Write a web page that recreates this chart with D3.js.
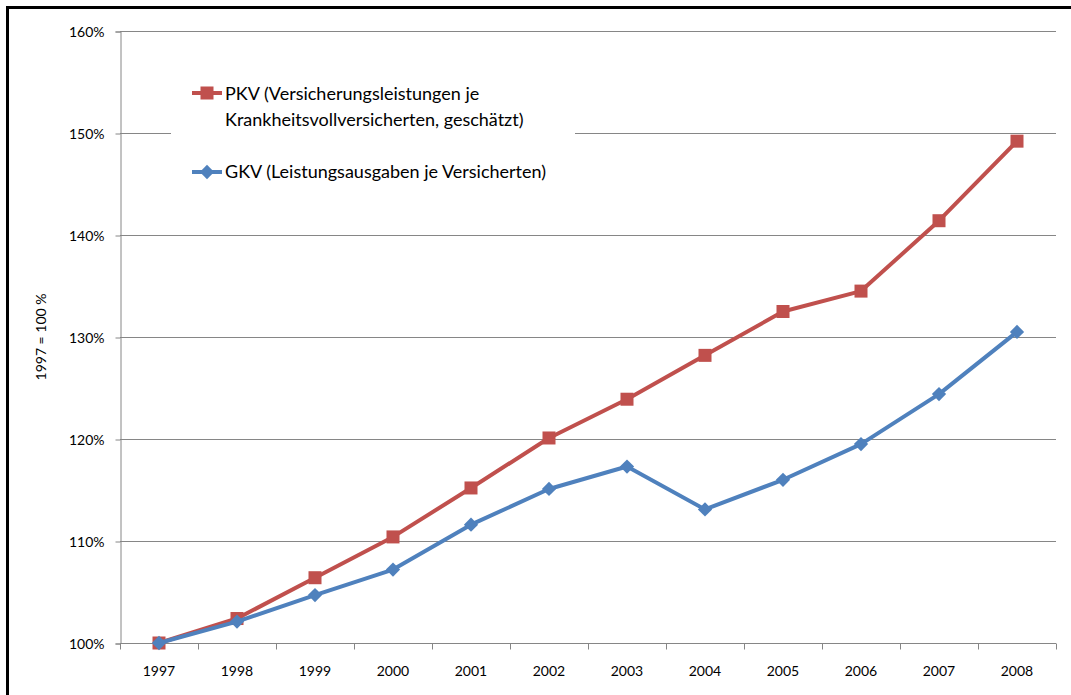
<!DOCTYPE html>
<html>
<head>
<meta charset="utf-8">
<script src="https://cdn.jsdelivr.net/npm/d3@7"></script>
<style>
  body { margin: 0; background: #fff; }
  svg text { font-family: Lato, "Liberation Sans", sans-serif; fill: #000; }
</style>
</head>
<body>
<svg id="chart" width="1071" height="695"></svg>
<script>
const years = ["1997","1998","1999","2000","2001","2002","2003","2004","2005","2006","2007","2008"];
const pkv = [100, 102.4, 106.4, 110.4, 115.2, 120.1, 123.9, 128.2, 132.5, 134.5, 141.4, 149.2];
const gkv = [100, 102.1, 104.7, 107.2, 111.6, 115.1, 117.3, 113.1, 116.0, 119.5, 124.4, 130.5];
const yTicks = [100, 110, 120, 130, 140, 150, 160];
const pkvLabel = ["PKV (Versicherungsleistungen je", "Krankheitsvollversicherten, geschätzt)"];
const gkvLabel = "GKV (Leistungsausgaben je Versicherten)";

const margin = {left: 120, top: 31, right: 1056, bottom: 643};
const svg = d3.select('#chart');

// outer frame (only left and top edges are visible in the picture)
svg.append('path')
    .attr('d', 'M7.5,700 V7.5 H1080')
    .attr('fill', 'none')
    .attr('stroke', '#000')
    .attr('stroke-width', 3);

const x = d3.scaleBand().domain(years).range([margin.left, margin.right]);
const y = d3.scaleLinear().domain([100, 160]).range([margin.bottom, margin.top]);

// gridlines
svg.append('g')
    .selectAll('line')
    .data(yTicks.slice(1))
    .join('line')
    .attr('x1', margin.left).attr('x2', margin.right)
    .attr('y1', d => Math.round(y(d)) + 0.5).attr('y2', d => Math.round(y(d)) + 0.5)
    .attr('stroke', '#868686').attr('stroke-width', 1);

// y axis
const yAxis = svg.append('g')
    .attr('transform', `translate(${margin.left + 0.5},0.5)`)
    .call(d3.axisLeft(y).tickValues(yTicks).tickSize(5).tickPadding(11).tickFormat(d => d + '%'));
yAxis.select('.domain').attr('stroke', '#868686');
yAxis.selectAll('.tick line').attr('stroke', '#868686');
yAxis.selectAll('text').style('font-size', '14px').attr('dy', '0.35em');

// x axis with ticks on category boundaries
const xAxisG = svg.append('g').attr('transform', `translate(0,${margin.bottom + 0.5})`);
xAxisG.append('line')
    .attr('x1', margin.left).attr('x2', margin.right)
    .attr('stroke', '#868686');
xAxisG.selectAll('.bound')
    .data(years.concat(['end']))
    .join('line')
    .attr('class', 'bound')
    .attr('x1', (d, i) => Math.round(margin.left + i * x.step()) + 0.5)
    .attr('x2', (d, i) => Math.round(margin.left + i * x.step()) + 0.5)
    .attr('y1', 0).attr('y2', 6)
    .attr('stroke', '#868686');
xAxisG.selectAll('text')
    .data(years)
    .join('text')
    .attr('x', d => x(d) + x.bandwidth() / 2)
    .attr('y', 32)
    .attr('text-anchor', 'middle')
    .style('font-size', '14px')
    .text(d => d);

// y axis title
svg.append('text')
    .attr('transform', `translate(46,${(margin.top + margin.bottom) / 2}) rotate(-90)`)
    .attr('text-anchor', 'middle')
    .style('font-size', '14px')
    .text('1997 = 100 %');

const cx = d => x(d) + x.bandwidth() / 2;
const line = d3.line().x((d, i) => cx(years[i])).y(d => y(d));

const red = '#C0504D', blue = '#4F81BD';

// PKV series
svg.append('path').datum(pkv)
    .attr('d', line).attr('fill', 'none')
    .attr('stroke', red).attr('stroke-width', 4).attr('stroke-linejoin', 'round');
svg.append('g').selectAll('rect')
    .data(pkv)
    .join('rect')
    .attr('x', (d, i) => cx(years[i]) - 6.5)
    .attr('y', d => y(d) - 6.5)
    .attr('width', 13).attr('height', 13)
    .attr('fill', red);

// GKV series
const diamond = d3.symbol().type(d3.symbolDiamond2).size(130);
svg.append('path').datum(gkv)
    .attr('d', line).attr('fill', 'none')
    .attr('stroke', blue).attr('stroke-width', 4).attr('stroke-linejoin', 'round');
svg.append('g').selectAll('path')
    .data(gkv)
    .join('path')
    .attr('transform', (d, i) => `translate(${cx(years[i])},${y(d)})`)
    .attr('d', diamond)
    .attr('fill', blue);

// legend
const lg = svg.append('g');
lg.append('rect')
    .attr('x', 171).attr('y', 72).attr('width', 404).attr('height', 120)
    .attr('fill', '#fff');

lg.append('line').attr('x1', 192).attr('x2', 222).attr('y1', 93).attr('y2', 93)
    .attr('stroke', red).attr('stroke-width', 4);
lg.append('rect').attr('x', 200.5).attr('y', 86.5).attr('width', 13).attr('height', 13).attr('fill', red);
lg.append('text')
    .attr('x', 225).attr('y', 100)
    .style('font-size', '18px')
    .selectAll('tspan')
    .data(pkvLabel)
    .join('tspan')
    .attr('x', 225)
    .attr('dy', (d, i) => i === 0 ? 0 : 26)
    .text(d => d);

lg.append('line').attr('x1', 192).attr('x2', 222).attr('y1', 172).attr('y2', 172)
    .attr('stroke', blue).attr('stroke-width', 4);
lg.append('path').attr('transform', 'translate(207,172)').attr('d', diamond).attr('fill', blue);
lg.append('text')
    .attr('x', 225).attr('y', 178)
    .style('font-size', '18px')
    .text(gkvLabel);
</script>
</body>
</html>
